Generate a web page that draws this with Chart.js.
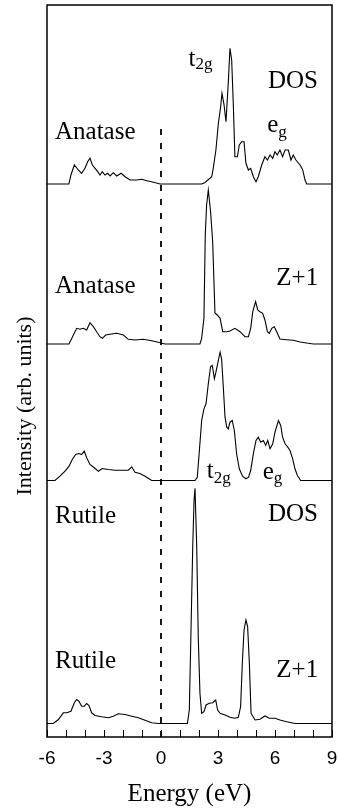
<!DOCTYPE html>
<html><head><meta charset="utf-8">
<script src="https://cdn.jsdelivr.net/npm/chart.js@4.4.0/dist/chart.umd.min.js"></script>
<style>html,body{margin:0;padding:0;background:#fff;} canvas{display:block;}</style>
</head><body>
<canvas id="c" width="338" height="810"></canvas>
<script>
// ---- data: [energy (eV), intensity (arb. units)] ----
const anataseDos = [[-6,0],[-4.85,0],[-4.74,9],[-4.56,19],[-4.35,14],[-4.18,10.7],[-4.0,15.7],[-3.86,22.3],[-3.74,25.7],[-3.61,19],[-3.47,15.7],[-3.33,12.3],[-3.21,9],[-3.09,12.3],[-2.95,9],[-2.81,10.7],[-2.68,8],[-2.51,11.3],[-2.33,8],[-2.1,10.7],[-1.89,7.3],[-1.63,4],[-1.28,4],[-1.02,4.7],[-0.75,3.3],[-0.49,2.3],[-0.05,0],[2.14,0],[2.3,1.3],[2.67,7.3],[2.75,15.7],[2.89,34],[3.02,60.7],[3.14,77.3],[3.21,90.7],[3.32,79],[3.42,62.3],[3.54,100.7],[3.63,135.7],[3.72,124],[3.81,77.3],[3.89,27.3],[4.02,27.3],[4.12,39],[4.25,42.3],[4.37,42.3],[4.47,20.7],[4.6,14],[4.72,15.7],[4.86,7.3],[5.0,2.3],[5.12,7.3],[5.3,19],[5.47,27.3],[5.6,24],[5.74,29],[5.88,25.7],[6.0,32.3],[6.12,29],[6.26,34],[6.4,27.3],[6.53,34],[6.7,34],[6.84,24],[6.96,29],[7.1,24],[7.32,19],[7.46,14],[7.58,4],[7.67,0],[9,0]];
const anataseZ1 = [[-6,0],[-4.84,0],[-4.61,9],[-4.44,15.7],[-4.26,14.7],[-4.09,15.7],[-3.91,14],[-3.74,21.3],[-3.56,17.3],[-3.39,12.3],[-3.21,7.3],[-3.09,5.7],[-2.91,9],[-2.6,10],[-2.33,10.7],[-1.98,9],[-1.72,4.7],[-1.37,4],[-0.93,4.7],[-0.49,3.3],[-0.14,1.7],[0.21,0],[2.05,0],[2.14,5.7],[2.26,25.7],[2.33,109],[2.4,139],[2.49,154],[2.61,132.3],[2.72,102.3],[2.84,31],[2.96,29],[3.11,25.7],[3.25,12.3],[3.46,12.3],[3.63,13],[3.89,15.7],[4.16,12.3],[4.42,7.3],[4.6,7.3],[4.72,15.7],[4.83,32.3],[4.98,42.3],[5.09,34],[5.21,32.3],[5.35,30.7],[5.47,24],[5.6,12.3],[5.7,10.7],[5.83,15.7],[5.96,17.3],[6.09,12.3],[6.26,5],[6.61,4.3],[6.96,3.7],[7.32,2],[7.75,0.7],[8.02,0],[9,0]];
const rutileDos = [[-6,0],[-5.58,0],[-5.32,4.3],[-5.05,9.3],[-4.84,14.3],[-4.67,21],[-4.49,26],[-4.32,27],[-4.18,26],[-4.04,29.3],[-3.91,22.7],[-3.74,16],[-3.51,12.7],[-3.3,9.3],[-3.09,12],[-2.77,11],[-2.42,10.3],[-2.07,10.3],[-1.72,10.3],[-1.54,13.7],[-1.37,8.3],[-1.11,7],[-0.84,4.3],[-0.49,0],[1.79,0],[1.91,3.3],[2.02,30],[2.14,60],[2.26,71.7],[2.37,76.7],[2.49,96.7],[2.61,114],[2.7,115],[2.81,101.7],[2.89,108.3],[2.98,116.7],[3.11,128.3],[3.19,121.7],[3.28,93.3],[3.37,63.3],[3.46,53.3],[3.54,51.7],[3.63,58.3],[3.75,60],[3.86,50],[3.98,26.7],[4.12,11.7],[4.3,4],[4.47,1.7],[4.61,3.3],[4.72,10],[4.86,26.7],[5.0,40],[5.12,43.3],[5.25,38.3],[5.39,40],[5.51,35],[5.62,40],[5.74,31.7],[5.88,36.7],[6.0,48.3],[6.18,60],[6.3,55],[6.4,43.3],[6.53,36.7],[6.67,33.3],[6.79,30],[6.93,21.7],[7.05,11.7],[7.18,5],[7.35,0],[9,0]];
const rutileZ1 = [[-6,0],[-5.67,0],[-5.4,4],[-5.14,10.7],[-4.96,10.7],[-4.74,12.3],[-4.56,20.7],[-4.44,24],[-4.32,22.3],[-4.18,17.3],[-4.04,17.3],[-3.91,20],[-3.79,18],[-3.65,10.7],[-3.47,8],[-3.12,6.7],[-2.77,5.7],[-2.51,7.3],[-2.25,9.7],[-1.89,9],[-1.54,7.3],[-1.19,5.7],[-0.84,3.3],[-0.49,0.7],[-0.14,0],[1.39,0],[1.49,13.5],[1.58,93.5],[1.67,176.8],[1.74,223.5],[1.79,235.2],[1.88,176.8],[1.96,86.8],[2.05,30.2],[2.14,10.2],[2.26,11.8],[2.37,18.5],[2.54,20.2],[2.72,20.8],[2.88,23.5],[2.98,13.5],[3.11,10.2],[3.37,8.5],[3.63,6.2],[3.89,5.2],[4.07,6.2],[4.19,16.8],[4.28,60.2],[4.37,93.5],[4.47,103.5],[4.56,96.8],[4.65,60.2],[4.74,10.2],[4.95,3.5],[5.21,4.2],[5.47,7.5],[5.7,5.2],[6.0,5.2],[6.26,3.5],[6.61,1.8],[7.05,0],[9,0]];

const xTickLabels = [-6, -3, 0, 3, 6, 9];
const xMinorTicks = [-6,-5,-4,-3,-2,-1,0,1,2,3,4,5,6,7,8,9];
const fermiLevel = 0;

// vertical stacking offsets (y-units) for each spectrum
const spectra = [anataseDos, anataseZ1, rutileDos, rutileZ1];
const offsets = [553, 393, 256.5, 13.5];

const annotations = [
  {text:'Anatase', x:-5.58, y:598},
  {text:'DOS', x:5.63, y:649},
  {text:'t', sub:'2g', x:1.45, y:671, dy:3},
  {text:'e', sub:'g', x:5.59, y:605, dy:5},
  {text:'Anatase', x:-5.58, y:444},
  {text:'Z+1', x:6.07, y:452},
  {text:'t', sub:'2g', x:2.41, y:259, dy:5},
  {text:'e', sub:'g', x:5.35, y:258, dy:4},
  {text:'Rutile', x:-5.58, y:214},
  {text:'DOS', x:5.63, y:216},
  {text:'Rutile', x:-5.58, y:69},
  {text:'Z+1', x:6.07, y:60}
];

const datasets = spectra.map((s, i) => ({
  data: s.map(([e, v]) => ({x: e, y: v + offsets[i]})),
  borderColor: '#000', borderWidth: 1.1, pointRadius: 0, showLine: true, tension: 0, fill: false
}));
datasets.push({
  data: [{x: fermiLevel, y: 0}, {x: fermiLevel, y: 615}],
  borderColor: '#000', borderWidth: 1.8, borderDash: [6, 8], pointRadius: 0, showLine: true
});

const serif = '"Liberation Serif", "Times New Roman", serif';

const decor = {
  id: 'decor',
  afterDraw(chart) {
    const {ctx, chartArea: a, scales: {x, y}} = chart;
    ctx.save();
    ctx.strokeStyle = '#000';
    ctx.lineWidth = 1.5;
    ctx.strokeRect(a.left, a.top, a.right - a.left, a.bottom - a.top);
    ctx.lineWidth = 1;
    ctx.beginPath();
    xMinorTicks.forEach(v => {
      const px = Math.round(x.getPixelForValue(v)) + 0.5;
      ctx.moveTo(px, a.bottom);
      ctx.lineTo(px, a.bottom - 7);
    });
    ctx.stroke();
    ctx.fillStyle = '#000';
    ctx.textBaseline = 'alphabetic';
    ctx.textAlign = 'left';
    annotations.forEach(an => {
      const px = x.getPixelForValue(an.x), py = y.getPixelForValue(an.y);
      ctx.font = '25px ' + serif;
      ctx.fillText(an.text, px, py);
      if (an.sub) {
        const w = ctx.measureText(an.text).width;
        ctx.font = '17px ' + serif;
        ctx.fillText(an.sub, px + w, py + an.dy);
      }
    });
    ctx.translate(31, 406);
    ctx.rotate(-Math.PI / 2);
    ctx.textAlign = 'center';
    ctx.font = '22px ' + serif;
    ctx.fillText('Intensity (arb. units)', 0, 0);
    ctx.restore();
  }
};

new Chart(document.getElementById('c'), {
  type: 'scatter',
  data: {datasets},
  options: {
    responsive: false, animation: false, devicePixelRatio: 1,
    layout: {padding: {top: 5, right: 6, left: 0, bottom: 0}},
    plugins: {legend: {display: false}, tooltip: {enabled: false}},
    scales: {
      x: {
        type: 'linear', min: -6, max: 9,
        afterBuildTicks: s => { s.ticks = xTickLabels.map(v => ({value: v})); },
        ticks: {color: '#000', font: {family: '"Liberation Sans", Arial, sans-serif', size: 19}, padding: 0, maxRotation: 0, autoSkip: false},
        grid: {display: false, drawTicks: true, tickLength: 10},
        border: {display: false},
        title: {display: true, text: 'Energy (eV)', color: '#000', font: {family: serif, size: 25}, padding: {top: 0, bottom: 1}},
        afterFit: s => { s.height = 73; }
      },
      y: {
        type: 'linear', min: 0, max: 732,
        ticks: {display: false},
        grid: {display: false, drawTicks: false},
        border: {display: false},
        afterFit: s => { s.width = 47; }
      }
    }
  },
  plugins: [decor]
});
</script>
</body></html>
